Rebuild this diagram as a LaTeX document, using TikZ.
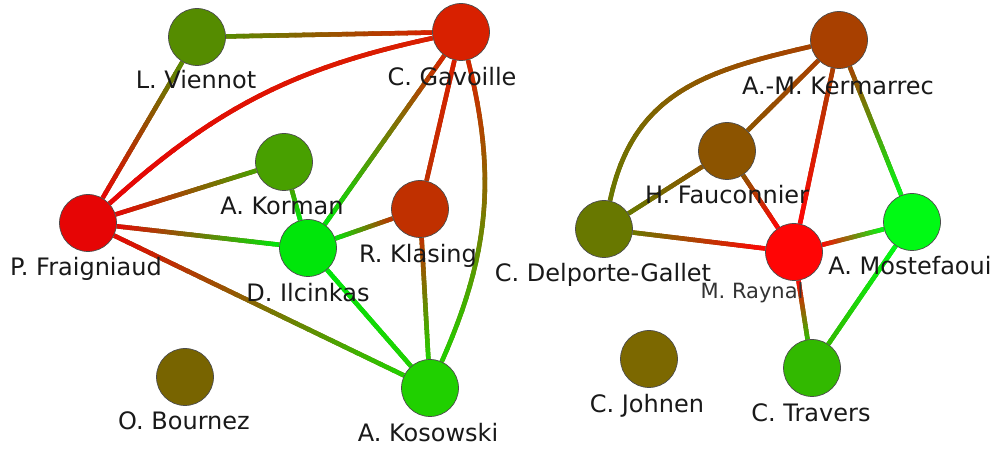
\documentclass[tikz,border=0pt]{standalone}
\usepackage{fontspec}
\setmainfont{DejaVu Sans}
\usetikzlibrary{backgrounds}
\definecolor{cVie}{RGB}{85,140,0}
\definecolor{cGav}{RGB}{216,32,0}
\definecolor{cKor}{RGB}{72,160,0}
\definecolor{cKla}{RGB}{192,48,0}
\definecolor{cFra}{RGB}{230,5,5}
\definecolor{cIlc}{RGB}{0,230,10}
\definecolor{cBou}{RGB}{120,100,0}
\definecolor{cKos}{RGB}{32,208,0}
\definecolor{cKer}{RGB}{168,64,0}
\definecolor{cFau}{RGB}{140,84,0}
\definecolor{cDel}{RGB}{104,120,0}
\definecolor{cRay}{RGB}{255,5,5}
\definecolor{cMos}{RGB}{0,250,20}
\definecolor{cJoh}{RGB}{124,104,0}
\definecolor{cTra}{RGB}{50,185,0}
\tikzset{
  vert/.style={circle, minimum size=57pt, inner sep=0pt, draw=black!70, line width=0.7pt},
  lbl/.style={anchor=base, font=\fontsize{24}{28}\selectfont, text=black!90, inner sep=0pt},
  lblsmall/.style={anchor=base, font=\fontsize{21}{25}\selectfont, text=black!80, inner sep=0pt},
  edgebase/.style={line width=4.5pt},
  edgeseg/.style={line width=4.5pt, line cap=butt},
}
% gradient connector: from node #1 (colour #3) to node #2 (colour #4), path operation #5
\newcommand{\gedge}[5]{%
  \draw[edgebase, color=#3!50!#4] (#1) #5 (#2);
  \foreach \i in {0,...,23}{%
    \pgfmathsetmacro{\ta}{\i/24}%
    \pgfmathsetmacro{\tb}{min(1,(\i+1.2)/24)}%
    \pgfmathtruncatemacro{\pc}{100-(\i+0.5)*100/24}%
    \path (#1) #5 coordinate[pos=\ta] (gs) coordinate[pos=\tb] (ge) (#2);
    \draw[edgeseg, color=#3!\pc!#4] (gs) -- (ge);
  }%
}
\begin{document}
\begin{tikzpicture}[x=1pt,y=1pt]
\useasboundingbox (0,0) rectangle (995,449);
% vertices
\node[vert, fill=cVie] (vie) at (197,412) {};
\node[vert, fill=cGav] (gav) at (461,417) {};
\node[vert, fill=cKor] (kor) at (284,287) {};
\node[vert, fill=cKla] (kla) at (420,240) {};
\node[vert, fill=cFra] (fra) at (88,226) {};
\node[vert, fill=cIlc] (ilc) at (308,201) {};
\node[vert, fill=cBou] (bou) at (185,72) {};
\node[vert, fill=cKos] (kos) at (430,61) {};
\node[vert, fill=cKer] (ker) at (839,409) {};
\node[vert, fill=cFau] (fau) at (727,298) {};
\node[vert, fill=cDel] (del) at (604,220) {};
\node[vert, fill=cRay] (ray) at (794,197) {};
\node[vert, fill=cMos] (mos) at (912,227) {};
\node[vert, fill=cJoh] (joh) at (649,90) {};
\node[vert, fill=cTra] (tra) at (812,81) {};
% connectors
\begin{scope}[on background layer]
\fill[white] (0,0) rectangle (995,449);
\gedge{vie}{gav}{cVie}{cGav}{--}
\gedge{vie}{fra}{cVie}{cFra}{--}
\gedge{fra}{gav}{cFra}{cGav}{to[bend left=15]}
\gedge{gav}{ilc}{cGav}{cIlc}{--}
\gedge{gav}{kla}{cGav}{cKla}{--}
\gedge{gav}{kos}{cGav}{cKos}{to[bend left=19]}
\gedge{fra}{kor}{cFra}{cKor}{--}
\gedge{fra}{ilc}{cFra}{cIlc}{--}
\gedge{fra}{kos}{cFra}{cKos}{--}
\gedge{kor}{ilc}{cKor}{cIlc}{--}
\gedge{ilc}{kla}{cIlc}{cKla}{--}
\gedge{ilc}{kos}{cIlc}{cKos}{--}
\gedge{kla}{kos}{cKla}{cKos}{--}
\gedge{ker}{del}{cKer}{cDel}{.. controls (706,378.4) and (633,356.9) ..}
\gedge{ker}{fau}{cKer}{cFau}{--}
\gedge{ker}{ray}{cKer}{cRay}{--}
\gedge{ker}{mos}{cKer}{cMos}{--}
\gedge{fau}{del}{cFau}{cDel}{--}
\gedge{fau}{ray}{cFau}{cRay}{--}
\gedge{del}{ray}{cDel}{cRay}{--}
\gedge{ray}{mos}{cRay}{cMos}{--}
\gedge{ray}{tra}{cRay}{cTra}{--}
\gedge{mos}{tra}{cMos}{cTra}{--}
\end{scope}
% labels
\node[lbl] (lvie) at (196,360) {L. Viennot};
\node[lbl] (lgav) at (452,363) {C. Gavoille};
\node[lbl] (lkor) at (282,234) {A. Korman};
\node[lbl] (lkla) at (418,186) {R. Klasing};
\node[lbl] (lfra) at (86,173) {P. Fraigniaud};
\node[lbl] (lilc) at (308,147) {D. Ilcinkas};
\node[lbl] (lbou) at (184,19) {O. Bournez};
\node[lbl] (lkos) at (428,7) {A. Kosowski};
\node[lbl] (lker) at (838,354) {A.-M. Kermarrec};
\node[lbl] (lfau) at (727,245) {H. Fauconnier};
\node[lbl] (ldel) at (603,167) {C. Delporte-Gallet};
\node[lblsmall] (lray) at (752,150) {M. Raynal};
\node[lbl] (lmos) at (910,174) {A. Mostefaoui};
\node[lbl] (ljoh) at (647,36) {C. Johnen};
\node[lbl] (ltra) at (811,27) {C. Travers};
\end{tikzpicture}
\end{document}
